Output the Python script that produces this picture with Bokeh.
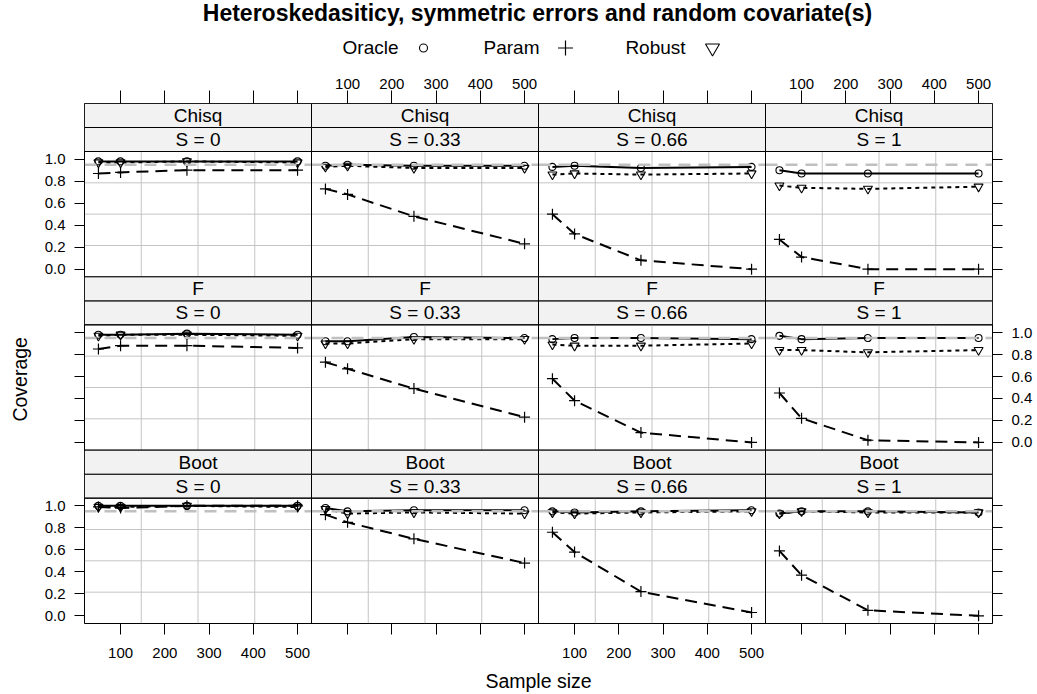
import math
from bokeh.plotting import figure
from bokeh.layouts import column, row
from bokeh.models import Range1d, LinearAxis, FixedTicker
from bokeh.core.properties import value
from bokeh.embed import file_html
from bokeh.resources import INLINE

# ---------------- data ----------------
sample_sizes = [50, 100, 250, 500]
s_levels = ["S = 0", "S = 0.33", "S = 0.66", "S = 1"]
distributions = ["Chisq", "F", "Boot"]
methods = ["Oracle", "Param", "Robust"]
x_ticks = [100, 200, 300, 400, 500]
y_ticks = [0.0, 0.2, 0.4, 0.6, 0.8, 1.0]
y_tick_labels = ["0.0", "0.2", "0.4", "0.6", "0.8", "1.0"]
nominal = 0.95

# one inner list per S level (S = 0, 0.33, 0.66, 1), values at sample_sizes
chisq_oracle = [[0.98, 0.98, 0.98, 0.98], [0.94, 0.95, 0.94, 0.94],
                [0.93, 0.94, 0.92, 0.93], [0.90, 0.87, 0.87, 0.87]]
chisq_param = [[0.87, 0.88, 0.90, 0.90], [0.73, 0.68, 0.48, 0.23],
               [0.50, 0.32, 0.08, 0.00], [0.27, 0.11, 0.00, 0.00]]
chisq_robust = [[0.97, 0.97, 0.98, 0.97], [0.93, 0.94, 0.92, 0.92],
                [0.86, 0.87, 0.86, 0.87], [0.76, 0.74, 0.73, 0.75]]

f_oracle = [[0.98, 0.98, 0.99, 0.98], [0.92, 0.92, 0.96, 0.95],
            [0.94, 0.95, 0.95, 0.94], [0.97, 0.94, 0.95, 0.95]]
f_param = [[0.85, 0.88, 0.88, 0.86], [0.73, 0.67, 0.49, 0.23],
           [0.58, 0.38, 0.09, 0.00], [0.45, 0.22, 0.02, 0.00]]
f_robust = [[0.97, 0.98, 0.98, 0.97], [0.90, 0.90, 0.94, 0.94],
            [0.89, 0.88, 0.88, 0.90], [0.84, 0.84, 0.82, 0.84]]

boot_oracle = [[1.00, 1.00, 1.00, 1.00], [0.98, 0.95, 0.96, 0.96],
               [0.95, 0.94, 0.95, 0.96], [0.93, 0.95, 0.95, 0.94]]
boot_param = [[0.99, 0.98, 1.00, 1.00], [0.92, 0.85, 0.70, 0.48],
              [0.76, 0.58, 0.22, 0.03], [0.59, 0.37, 0.05, 0.00]]
boot_robust = [[0.99, 0.99, 1.00, 0.99], [0.97, 0.93, 0.94, 0.93],
               [0.94, 0.93, 0.94, 0.95], [0.93, 0.95, 0.94, 0.94]]

series = {
    "Chisq": (chisq_oracle, chisq_param, chisq_robust),
    "F": (f_oracle, f_param, f_robust),
    "Boot": (boot_oracle, boot_param, boot_robust),
}

TITLE = "Heteroskedasiticy, symmetric errors and random covariate(s)"

# ---------------- layout (page pixels) ----------------
FONT = "Liberation Sans"
W, H = 1036, 693
HEAD, FOOT, LB = 60, 26, 40
MID = H - HEAD - FOOT
FL, FR, FT, FB = 84, 992, 103, 623        # frame edges of the panel block

# lattice-style 7% padding of the data ranges
xlo, xhi = 50 - 0.07 * 450, 500 + 0.07 * 450
xspan = xhi - xlo
ylo, yhi = -0.07, 1.07
yspan = yhi - ylo
panel_px = (FB - FT) / 3.0 - 48.0
strip = yspan * 24.0 / panel_px
rowh = yspan + 2 * strip


def blank_fig(width, height, x0, x1, y0, y1):
    f = figure(width=width, height=height, output_backend="svg", title=None,
               toolbar_location=None, x_axis_type=None, y_axis_type=None,
               x_range=Range1d(x0, x1), y_range=Range1d(y0, y1),
               min_border_left=0, min_border_right=0,
               min_border_top=0, min_border_bottom=0)
    f.outline_line_color = None
    f.background_fill_color = "white"
    f.border_fill_color = "white"
    return f


# ---- header: title and key (page coordinates, y downward) ----
header = blank_fig(W, HEAD, 0, W, HEAD, 0)
header.text(x=[537], y=[12.5], text=[TITLE], text_align="center",
            text_baseline="middle", text_font=value(FONT),
            text_font_style=value("bold"), text_font_size=value("23px"),
            text_color="black")
header.text(x=[370, 511, 655], y=[47] * 3, text=methods, text_align="center",
            text_baseline="middle", text_font=value(FONT),
            text_font_size=value("19px"), text_color="black")
header.scatter([423], [47.5], marker="circle", size=8, fill_color=None,
               line_color="black", line_width=1.1)
header.scatter([565], [47.5], marker="cross", size=15, line_color="black",
               line_width=1.2)
header.scatter([712], [47.5], marker="inverted_triangle", size=14,
               fill_color=None, line_color="black", line_width=1.1)

# ---- left bar: y-axis title ----
leftbar = blank_fig(LB, MID, 0, LB, HEAD + MID, HEAD)
leftbar.text(x=[19], y=[382], text=["Coverage"], angle=math.pi / 2,
             text_align="center", text_baseline="middle", text_font=value(FONT),
             text_font_size=value("19.5px"), text_color="black")

# ---- footer: x-axis title ----
footer = blank_fig(W, FOOT, 0, W, H, H - FOOT)
footer.text(x=[538], y=[680], text=["Sample size"], text_align="center",
            text_baseline="middle", text_font=value(FONT),
            text_font_size=value("19.5px"), text_color="black")

# ---- main trellis ----
MW = W - LB
p = figure(width=MW, height=MID, output_backend="svg", toolbar_location=None,
           title=None,
           x_range=Range1d(xlo, xlo + 4 * xspan),
           y_range=Range1d(ylo, ylo + 3 * rowh),
           x_axis_type=None, y_axis_type=None,
           min_border_left=FL - LB, min_border_top=FT - HEAD,
           min_border_right=W - FR, min_border_bottom=(HEAD + MID) - FB)
p.outline_line_color = "black"
p.outline_line_width = 1
p.background_fill_color = "white"
p.border_fill_color = "white"

p.extra_x_ranges = {f"c{j}": Range1d(xlo - j * xspan, xlo + (4 - j) * xspan)
                    for j in range(4)}
p.extra_y_ranges = {f"r{r}": Range1d(ylo - (2 - r) * rowh, ylo + (r + 1) * rowh)
                    for r in range(3)}


def make_axis(ticks, overrides, tick_out, standoff):
    return LinearAxis(
        ticker=FixedTicker(ticks=ticks, minor_ticks=[]),
        major_label_overrides=overrides,
        axis_line_color=None,
        major_tick_in=0, major_tick_out=tick_out,
        major_tick_line_color="black", major_tick_line_width=1,
        minor_tick_line_color=None,
        major_label_standoff=standoff,
        major_label_text_font=FONT,
        major_label_text_font_size="15px",
        major_label_text_color="black",
    )


xt = [x + j * xspan for j in range(4) for x in x_ticks]
bottom_ov = {x + j * xspan: (str(x) if j in (0, 2) else "") for j in range(4) for x in x_ticks}
top_ov = {x + j * xspan: (str(x) if j in (1, 3) else "") for j in range(4) for x in x_ticks}
yt = [v + (2 - r) * rowh for r in range(3) for v in y_ticks]
left_ov = {v + (2 - r) * rowh: (lab if r in (0, 2) else "")
           for r in range(3) for v, lab in zip(y_ticks, y_tick_labels)}
right_ov = {v + (2 - r) * rowh: (lab if r == 1 else "")
            for r in range(3) for v, lab in zip(y_ticks, y_tick_labels)}

p.add_layout(make_axis(xt, bottom_ov, 11, 13), "below")
p.add_layout(make_axis(xt, top_ov, 13, 2), "above")
p.add_layout(make_axis(yt, left_ov, 10, 9), "left")
p.add_layout(make_axis(yt, right_ov, 10, 9), "right")

grid_x = [xlo + k * xspan / 4 for k in (1, 2, 3)]
grid_y = [ylo + k * yspan / 4 for k in (1, 2, 3)]

for r, dist in enumerate(distributions):
    oracle, param, robust = series[dist]
    for j, s in enumerate(s_levels):
        kw = dict(x_range_name=f"c{j}", y_range_name=f"r{r}")
        # strips
        p.quad(left=[xlo, xlo], right=[xhi, xhi],
               bottom=[yhi, yhi + strip], top=[yhi + strip, yhi + 2 * strip],
               fill_color="#f2f2f2", line_color="black", line_width=1, **kw)
        p.text(x=[(xlo + xhi) / 2] * 2, y=[yhi + strip / 2, yhi + 1.5 * strip],
               text=[s, dist], text_align="center", text_baseline="middle",
               text_font=value(FONT), text_font_size=value("19px"),
               text_color="black", **kw)
        # panel grid
        p.segment(x0=grid_x, x1=grid_x, y0=[ylo] * 3, y1=[yhi] * 3,
                  line_color="#c4c4c4", line_width=1, **kw)
        p.segment(x0=[xlo] * 3, x1=[xhi] * 3, y0=grid_y, y1=grid_y,
                  line_color="#c4c4c4", line_width=1, **kw)
        # series
        p.line(sample_sizes, oracle[j], line_color="black", line_width=2, **kw)
        p.line(sample_sizes, param[j], line_color="black", line_width=2,
               line_dash="12 7", **kw)
        p.line(sample_sizes, robust[j], line_color="black", line_width=2,
               line_dash="4 4", **kw)
        p.scatter(sample_sizes, oracle[j], marker="circle", size=7,
                  fill_color=None, line_color="black", line_width=1.1, **kw)
        p.scatter(sample_sizes, param[j], marker="cross", size=11,
                  line_color="black", line_width=1.2, **kw)
        p.scatter(sample_sizes, robust[j], marker="inverted_triangle", size=9,
                  fill_color=None, line_color="black", line_width=1.1, **kw)
        # nominal coverage reference line (drawn over the series, as in lattice)
        p.segment(x0=[xlo], x1=[xhi], y0=[nominal], y1=[nominal],
                  line_color="#c0c0c0", line_width=2.5, line_dash="12 8", **kw)
        # panel border
        p.quad(left=[xlo], right=[xhi], bottom=[ylo], top=[yhi],
               fill_color=None, line_color="black", line_width=1, **kw)

layout = column(header, row(leftbar, p), footer)
open("out.html", "w").write(file_html(layout, INLINE))
